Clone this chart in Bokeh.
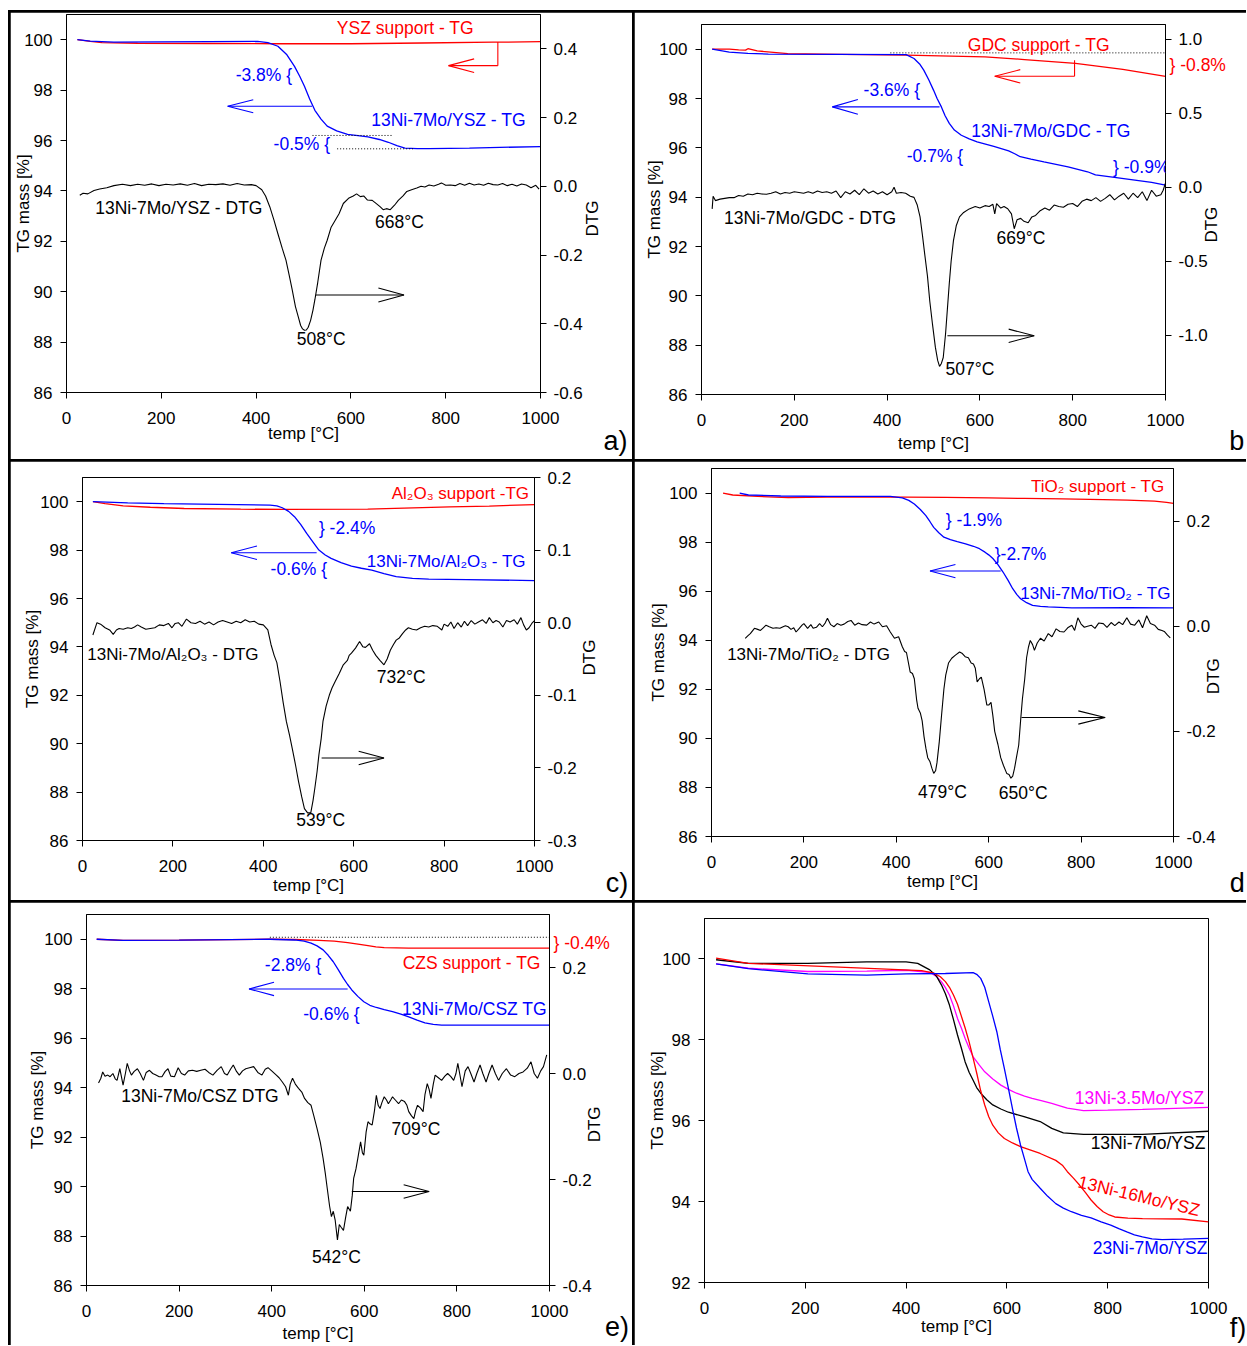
import math
from bokeh.plotting import figure
from bokeh.models import Range1d, LinearAxis, FixedTicker, PrintfTickFormatter, Label
from bokeh.layouts import row, column
from bokeh.embed import file_html
from bokeh.resources import INLINE

FONT = "Liberation Sans"
BLUE = "#0000ff"
RED = "#ff0000"
BLACK = "#000000"
MAG = "#ff00ff"
NBSP = "\u00a0"

X_TICKS = [0, 200, 400, 600, 800, 1000]
TG_TICKS = [86, 88, 90, 92, 94, 96, 98, 100]
TG_TICKS_F = [92, 94, 96, 98, 100]

# ---------------- panel a : YSZ ----------------
a_ysz_T = [23, 50, 75, 150, 300, 450, 600, 750, 900, 1000]
a_ysz_tg = [100.0, 99.93, 99.88, 99.86, 99.85, 99.84, 99.84, 99.87, 99.90, 99.92]
a_cat_T = [23, 50, 100, 200, 300, 403, 425, 446, 465, 481, 492, 502, 513, 524, 537, 550, 570, 593,
           615, 636, 660, 679, 697, 714, 740, 765, 850, 1000]
a_cat_tg = [100.0, 99.94, 99.90, 99.91, 99.92, 99.93, 99.88, 99.74, 99.40, 98.94, 98.55, 98.15, 97.65,
            97.20, 96.85, 96.57, 96.38, 96.24, 96.19, 96.14, 96.04, 95.93, 95.80, 95.70, 95.68, 95.68,
            95.70, 95.76]
a_dtg_T = [28, 35, 45, 58, 70, 85, 100, 118, 135, 150,
           165, 180, 195, 210, 225, 240, 255, 270, 285, 300,
           315, 330, 345, 360, 375, 390, 400, 412, 420, 429,
           438, 446, 455, 463, 470, 476, 483, 489, 494, 498,
           502, 506, 510, 515, 520, 524, 530, 537, 544, 550,
           558, 567, 575, 584, 595, 605, 612, 620, 627, 635,
           645, 655, 662, 668, 675, 683, 692, 700, 710, 718,
           728, 739, 748, 756, 765, 775, 785, 791, 800, 810,
           820, 830, 840, 850, 860, 870, 880, 890, 900, 910,
           920, 930, 940, 950, 960, 970, 980, 990, 997]
a_dtg = [-0.026, -0.020, -0.022, -0.012, -0.008, -0.004, 0.002, 0.006, 0.002, 0.006,
         0.003, 0.007, 0.002, 0.006, 0.004, 0.007, 0.003, 0.008, 0.002, 0.006,
         0.005, 0.007, 0.003, 0.008, 0.004, 0.005, 0.002, -0.010, -0.028, -0.060,
         -0.100, -0.138, -0.180, -0.215, -0.260, -0.300, -0.350, -0.380, -0.405, -0.415,
         -0.419, -0.418, -0.410, -0.390, -0.360, -0.330, -0.280, -0.215, -0.180, -0.157,
         -0.120, -0.099, -0.080, -0.050, -0.035, -0.028, -0.022, -0.030, -0.028, -0.040,
         -0.041, -0.052, -0.060, -0.068, -0.065, -0.068, -0.055, -0.041, -0.028, -0.015,
         -0.010, -0.005, 0.000, -0.002, 0.004, 0.001, 0.006, 0.010, 0.003, 0.004,
         0.002, 0.008, 0.003, 0.009, 0.004, 0.007, 0.003, 0.009, 0.005, 0.004,
         0.008, 0.002, 0.006, 0.001, 0.007, 0.004, -0.004, 0.003, -0.008]

# ---------------- panel b : GDC ----------------
b_gdc_T = [23, 60, 80, 95, 100, 120, 186, 300, 441, 611, 696, 806, 908, 1000]
b_gdc_tg = [100.0, 100.0, 99.97, 99.96, 100.02, 99.93, 99.82, 99.79, 99.76, 99.69, 99.58, 99.42,
            99.18, 98.90]
b_cat_T = [23, 60, 100, 144, 300, 441, 458, 470, 479, 490, 500, 508, 517, 525, 534, 545, 560, 577,
           594, 630, 662, 675, 687, 710, 738, 790, 832, 849, 890, 934, 970, 1000]
b_cat_tg = [100.0, 99.88, 99.83, 99.80, 99.79, 99.78, 99.62, 99.40, 99.15, 98.75, 98.34, 97.99, 97.66,
            97.30, 96.99, 96.72, 96.51, 96.36, 96.24, 96.06, 95.88, 95.76, 95.64, 95.54, 95.43, 95.23,
            95.03, 94.90, 94.80, 94.69, 94.60, 94.49]
b_dtg_T = [23, 25, 30, 40, 50, 60, 70, 80, 90, 100,
           110, 120, 130, 140, 150, 160, 170, 180, 190, 200,
           210, 220, 230, 240, 250, 260, 270, 280, 290, 300,
           310, 320, 330, 340, 350, 360, 370, 380, 390, 400,
           410, 415, 420, 430, 440, 450, 458, 465, 471, 476,
           481, 487, 492, 498, 504, 509, 513, 517, 521, 526,
           530, 534, 538, 543, 549, 556, 565, 577, 590, 600,
           611, 620, 628, 632, 636, 645, 652, 660, 668, 674,
           680, 688, 695, 704, 712, 720, 730, 740, 750, 760,
           770, 780, 790, 800, 810, 820, 830, 840, 850, 860,
           870, 880, 890, 900, 910, 920, 930, 940, 950, 960,
           970, 980, 990, 995, 1000]
b_dtg = [-0.146, -0.060, -0.090, -0.080, -0.075, -0.070, -0.070, -0.055, -0.060, -0.045,
         -0.050, -0.040, -0.045, -0.047, -0.040, -0.030, -0.045, -0.035, -0.040, -0.030,
         -0.035, -0.040, -0.030, -0.040, -0.025, -0.035, -0.030, -0.040, -0.025, -0.070,
         -0.030, -0.045, -0.020, -0.050, -0.010, -0.040, -0.025, -0.045, -0.030, -0.050,
         -0.030, 0.000, -0.040, -0.035, -0.040, -0.060, -0.068, -0.120, -0.200, -0.320,
         -0.450, -0.600, -0.770, -0.930, -1.080, -1.170, -1.210, -1.190, -1.150, -0.990,
         -0.820, -0.650, -0.500, -0.360, -0.260, -0.200, -0.170, -0.146, -0.130, -0.140,
         -0.124, -0.130, -0.115, -0.180, -0.110, -0.140, -0.130, -0.145, -0.180, -0.280,
         -0.220, -0.210, -0.230, -0.240, -0.200, -0.190, -0.158, -0.140, -0.155, -0.120,
         -0.130, -0.135, -0.115, -0.110, -0.130, -0.095, -0.080, -0.090, -0.070, -0.095,
         -0.075, -0.050, -0.085, -0.060, -0.040, -0.080, -0.040, -0.070, -0.030, -0.090,
         -0.020, -0.060, -0.050, -0.020, 0.030]

# ---------------- panel c : Al2O3 ----------------
c_al_T = [23, 50, 90, 150, 225, 350, 451, 631, 812, 900, 1000]
c_al_tg = [100.0, 99.92, 99.83, 99.77, 99.72, 99.69, 99.68, 99.69, 99.79, 99.82, 99.88]
c_cat_T = [23, 100, 180, 300, 415, 430, 442, 456, 469, 483, 496, 510, 523, 537, 550, 572, 595, 617,
           640, 667, 694, 730, 766, 850, 1000]
c_cat_tg = [100.0, 99.95, 99.92, 99.89, 99.86, 99.83, 99.75, 99.60, 99.38, 99.05, 98.69, 98.33, 98.00,
            97.80, 97.66, 97.48, 97.34, 97.25, 97.17, 97.03, 96.90, 96.83, 96.80, 96.78, 96.74]
c_dtg_T = [23, 32, 40, 50, 60, 68, 75, 81, 90, 100,
           108, 115, 122, 130, 140, 150, 160, 170, 180, 190,
           198, 205, 212, 220, 230, 240, 250, 260, 270, 280,
           290, 300, 310, 320, 330, 340, 350, 360, 370, 380,
           390, 400, 410, 417, 424, 430, 437, 444, 451, 458,
           464, 471, 478, 485, 491, 498, 505, 510, 514, 519,
           523, 528, 532, 539, 546, 552, 559, 568, 577, 586,
           590, 595, 604, 613, 620, 626, 635, 642, 649, 658,
           667, 674, 681, 688, 694, 701, 708, 715, 721, 730,
           739, 748, 757, 766, 775, 785, 795, 800, 808, 815,
           822, 830, 838, 845, 852, 860, 868, 876, 885, 893,
           900, 908, 915, 922, 930, 938, 946, 955, 962, 970,
           976, 982, 988, 994, 1000]
c_dtg = [-0.017, 0.000, -0.002, -0.007, -0.010, -0.016, -0.010, -0.008, -0.009, -0.007,
         -0.008, -0.006, -0.003, -0.006, -0.009, -0.008, -0.007, -0.003, -0.004, -0.001,
         -0.007, -0.001, 0.000, -0.005, 0.005, 0.000, -0.001, 0.002, -0.002, 0.001,
         -0.003, 0.001, 0.003, 0.001, -0.001, 0.002, 0.000, 0.004, 0.001, 0.002,
         -0.002, -0.003, -0.010, -0.030, -0.045, -0.055, -0.081, -0.110, -0.136, -0.155,
         -0.173, -0.195, -0.219, -0.240, -0.256, -0.262, -0.262, -0.245, -0.228, -0.205,
         -0.182, -0.160, -0.136, -0.115, -0.100, -0.090, -0.081, -0.070, -0.058, -0.052,
         -0.045, -0.042, -0.035, -0.026, -0.033, -0.034, -0.029, -0.038, -0.045, -0.052,
         -0.058, -0.050, -0.038, -0.030, -0.024, -0.021, -0.015, -0.010, -0.007, -0.009,
         -0.010, -0.007, -0.005, -0.006, -0.004, -0.005, -0.010, -0.002, -0.005, 0.001,
         -0.008, 0.000, -0.006, 0.002, -0.004, 0.003, -0.002, 0.001, 0.004, -0.001,
         0.007, 0.000, 0.003, 0.001, -0.006, 0.003, 0.001, 0.004, -0.002, 0.007,
         -0.003, -0.010, -0.007, -0.001, 0.003]

# ---------------- panel d : TiO2 ----------------
d_ti_T = [25, 46, 100, 166, 250, 336, 420, 507, 600, 677, 760, 848, 900, 959, 985, 1000]
d_ti_tg = [100.0, 99.92, 99.86, 99.81, 99.83, 99.84, 99.83, 99.82, 99.80, 99.78, 99.76, 99.73, 99.71,
           99.67, 99.62, 99.58]
d_cat_T = [61, 80, 150, 251, 330, 387, 413, 427, 439, 452, 464, 473, 481, 492, 503, 517, 532, 550,
           567, 580, 592, 600, 609, 620, 631, 642, 652, 661, 669, 682, 695, 712, 729, 780, 900, 1000]
d_cat_tg = [100.0, 99.92, 99.88, 99.86, 99.86, 99.86, 99.80, 99.70, 99.55, 99.33, 99.08, 98.83, 98.60,
            98.38, 98.20, 98.10, 98.02, 97.93, 97.83, 97.73, 97.59, 97.48, 97.33, 97.08, 96.78, 96.44,
            96.10, 95.86, 95.69, 95.53, 95.42, 95.38, 95.36, 95.32, 95.33, 95.32]
d_dtg_T = [73, 79, 84, 93, 100, 106, 112, 118, 125, 133,
           140, 148, 155, 160, 166, 172, 178, 183, 190, 196,
           200, 208, 215, 220, 227, 234, 240, 246, 251, 258,
           265, 272, 280, 287, 295, 302, 310, 318, 326, 336,
           344, 352, 362, 370, 379, 387, 396, 405, 413, 418,
           422, 430, 435, 439, 444, 447, 452, 456, 460, 464,
           468, 473, 477, 481, 485, 488, 493, 498, 503, 507,
           513, 520, 528, 537, 543, 549, 556, 562, 567, 571,
           575, 580, 584, 590, 596, 600, 605, 609, 613, 620,
           626, 632, 639, 644, 648, 652, 656, 660, 665, 669,
           673, 678, 682, 686, 690, 695, 699, 705, 712, 720,
           729, 737, 746, 754, 763, 771, 780, 786, 793, 800,
           807, 814, 822, 830, 838, 848, 856, 865, 873, 882,
           890, 899, 907, 916, 925, 933, 942, 950, 959, 967,
           975, 980, 987, 993]
d_dtg = [-0.023, -0.018, -0.014, -0.004, -0.006, -0.008, -0.003, 0.002, -0.001, -0.004,
         -0.003, -0.004, -0.001, 0.001, -0.001, -0.006, -0.003, -0.011, -0.004, 0.002,
         0.005, -0.004, 0.003, -0.004, -0.002, 0.005, -0.001, 0.006, 0.015, 0.003,
         -0.001, 0.005, 0.002, 0.004, 0.009, 0.011, 0.002, 0.006, 0.003, 0.002,
         0.008, 0.004, 0.008, -0.001, 0.001, -0.011, -0.023, -0.020, -0.039, -0.048,
         -0.050, -0.087, -0.090, -0.100, -0.140, -0.156, -0.165, -0.180, -0.210, -0.232,
         -0.250, -0.258, -0.270, -0.280, -0.275, -0.260, -0.220, -0.169, -0.120, -0.093,
         -0.070, -0.061, -0.055, -0.049, -0.052, -0.058, -0.060, -0.070, -0.072, -0.080,
         -0.106, -0.100, -0.097, -0.120, -0.150, -0.150, -0.145, -0.170, -0.200, -0.225,
         -0.250, -0.265, -0.280, -0.282, -0.289, -0.285, -0.270, -0.250, -0.226, -0.180,
         -0.138, -0.100, -0.060, -0.040, -0.027, -0.035, -0.046, -0.032, -0.023, -0.028,
         -0.014, -0.020, -0.005, -0.010, -0.011, -0.003, 0.002, -0.008, 0.016, 0.004,
         -0.002, 0.000, 0.002, -0.004, 0.006, 0.005, -0.002, 0.007, 0.001, 0.008,
         0.003, 0.016, 0.004, 0.002, 0.012, -0.003, 0.020, 0.005, 0.002, -0.006,
         -0.008, -0.010, -0.017, -0.022]

# ---------------- panel e : CZS ----------------
e_czs_T = [22, 79, 200, 396, 450, 502, 535, 564, 590, 608, 625, 643, 696, 800, 1000]
e_czs_tg = [100.0, 99.95, 99.96, 100.0, 99.99, 99.95, 99.92, 99.86, 99.79, 99.74, 99.69, 99.66, 99.64,
            99.64, 99.64]
e_cat_T = [22, 79, 200, 396, 449, 470, 485, 498, 511, 522, 533, 544, 555, 564, 573, 586, 599, 612,
           626, 643, 661, 679, 696, 714, 731, 749, 767, 850, 1000]
e_cat_tg = [100.0, 99.95, 99.96, 100.0, 99.97, 99.92, 99.84, 99.73, 99.57, 99.35, 99.09, 98.76, 98.42,
            98.17, 97.95, 97.69, 97.47, 97.33, 97.24, 97.15, 97.07, 96.97, 96.86, 96.73, 96.62, 96.56,
            96.53, 96.53, 96.53]
e_dtg_T = [26, 31, 35, 40, 46, 51, 57, 62, 66, 72,
           79, 84, 88, 93, 97, 103, 110, 116, 123, 129,
           136, 143, 150, 157, 163, 170, 176, 182, 190, 198,
           205, 212, 220, 229, 238, 247, 256, 264, 273, 282,
           291, 298, 304, 311, 317, 324, 330, 337, 344, 352,
           361, 370, 379, 386, 392, 400, 410, 416, 423, 430,
           436, 440, 445, 451, 458, 465, 471, 478, 485, 491,
           498, 505, 511, 516, 520, 525, 529, 533, 537, 542,
           546, 550, 555, 560, 564, 570, 574, 577, 582, 586,
           592, 596, 599, 604, 608, 612, 617, 622, 626, 630,
           634, 638, 643, 648, 652, 657, 661, 667, 674, 680,
           687, 692, 696, 702, 707, 711, 715, 721, 727, 731,
           736, 740, 744, 749, 753, 760, 767, 774, 780, 787,
           793, 798, 802, 806, 811, 818, 824, 830, 837, 843,
           850, 856, 863, 869, 876, 883, 890, 898, 907, 916,
           925, 934, 943, 952, 960, 967, 974, 981, 987, 994]
e_dtg = [-0.018, -0.009, 0.003, -0.005, -0.003, -0.006, 0.000, -0.010, -0.013, 0.009,
         -0.022, 0.000, 0.019, 0.005, -0.003, 0.004, 0.009, 0.000, -0.013, 0.002,
         0.006, 0.000, -0.003, -0.006, -0.006, 0.004, 0.009, -0.005, -0.006, 0.011,
         0.000, -0.003, 0.005, 0.006, 0.004, 0.006, 0.008, 0.002, -0.003, 0.006,
         0.013, 0.000, -0.003, 0.008, 0.016, 0.004, -0.003, 0.005, 0.009, 0.011,
         0.013, 0.002, -0.003, 0.008, 0.011, 0.005, -0.003, -0.008, -0.016, -0.025,
         -0.041, -0.020, -0.009, -0.020, -0.028, -0.035, -0.047, -0.055, -0.060, -0.080,
         -0.104, -0.130, -0.160, -0.190, -0.217, -0.250, -0.270, -0.260, -0.276, -0.314,
         -0.285, -0.290, -0.296, -0.270, -0.251, -0.260, -0.230, -0.198, -0.180, -0.160,
         -0.129, -0.150, -0.154, -0.110, -0.091, -0.095, -0.097, -0.070, -0.041, -0.060,
         -0.066, -0.055, -0.044, -0.050, -0.057, -0.050, -0.044, -0.050, -0.057, -0.050,
         -0.053, -0.060, -0.072, -0.080, -0.085, -0.070, -0.060, -0.065, -0.072, -0.040,
         -0.019, -0.030, -0.047, -0.020, -0.003, -0.008, -0.013, -0.005, 0.000, -0.006,
         -0.013, 0.000, 0.019, 0.000, -0.025, 0.005, 0.013, 0.000, -0.016, 0.000,
         0.016, 0.000, -0.016, 0.000, 0.016, 0.000, -0.013, 0.000, 0.009, -0.003,
         -0.006, 0.000, 0.003, 0.010, 0.022, 0.000, -0.009, 0.005, 0.013, 0.035]

# ---------------- panel f : YSZ comparison ----------------
f_7mo_T = [23, 87, 205, 322, 400, 423, 447, 460, 470, 478, 486, 494, 502, 510, 517, 525, 533, 540,
           548, 560, 572, 588, 603, 634, 666, 689, 712, 752, 869, 1000]
f_7mo_tg = [99.98, 99.89, 99.89, 99.93, 99.93, 99.89, 99.73, 99.58, 99.36, 99.14, 98.86, 98.50, 98.12,
            97.78, 97.46, 97.20, 97.00, 96.82, 96.68, 96.52, 96.39, 96.29, 96.21, 96.10, 95.98, 95.81,
            95.70, 95.66, 95.66, 95.74]
f_16mo_T = [23, 87, 244, 361, 431, 455, 468, 478, 486, 494, 502, 509, 517, 525, 533, 541, 548, 556,
            564, 572, 583, 595, 611, 627, 666, 697, 710, 720, 732, 744, 756, 767, 779, 791, 803, 814,
            840, 869, 947, 1000]
f_16mo_tg = [100.02, 99.89, 99.81, 99.75, 99.71, 99.65, 99.56, 99.44, 99.30, 99.11, 98.88, 98.61,
             98.30, 97.95, 97.55, 97.13, 96.74, 96.39, 96.10, 95.89, 95.70, 95.56, 95.45, 95.36, 95.19,
             95.02, 94.90, 94.74, 94.58, 94.41, 94.22, 94.04, 93.88, 93.75, 93.67, 93.62, 93.59, 93.58,
             93.57, 93.50]
f_35mo_T = [23, 87, 205, 322, 400, 447, 460, 470, 478, 486, 494, 502, 510, 517, 525, 533, 545, 556,
            572, 588, 604, 619, 635, 650, 670, 689, 705, 720, 752, 800, 869, 1000]
f_35mo_tg = [99.88, 99.77, 99.69, 99.70, 99.72, 99.67, 99.57, 99.44, 99.29, 99.11, 98.84, 98.53, 98.28,
             98.04, 97.80, 97.58, 97.38, 97.21, 97.03, 96.88, 96.77, 96.68, 96.61, 96.55, 96.49, 96.43,
             96.37, 96.31, 96.25, 96.26, 96.28, 96.33]
f_23ni_T = [23, 87, 205, 322, 400, 478, 533, 540, 548, 556, 564, 572, 580, 587, 595, 603, 611, 619,
            627, 635, 642, 650, 666, 681, 697, 712, 728, 748, 767, 787, 806, 822, 838, 853, 869, 888,
            908, 950, 1000]
f_23ni_tg = [99.88, 99.76, 99.63, 99.60, 99.63, 99.64, 99.66, 99.62, 99.52, 99.30, 98.94, 98.58, 98.20,
             97.75, 97.29, 96.80, 96.30, 95.82, 95.40, 95.05, 94.74, 94.55, 94.33, 94.13, 93.95, 93.84,
             93.75, 93.66, 93.60, 93.50, 93.42, 93.33, 93.25, 93.18, 93.13, 93.08, 93.06, 93.07, 93.09]

# ---------------- annotations (text, x, y, colour, align, size) ----------------
a_texts = [("YSZ support - TG", 715, 100.46, RED, "center", "17.5px"),
           ("-3.8% {", 476, 98.61, BLUE, "right", "17.5px"),
           ("13Ni-7Mo/YSZ - TG", 806, 96.80, BLUE, "center", "17.5px"),
           ("-0.5% {", 556, 95.88, BLUE, "right", "17.5px"),
           ("13Ni-7Mo/YSZ - DTG", 237, 93.33, BLACK, "center", "17.5px"),
           ("668°C", 651, 92.76, BLACK, "left", "17.5px"),
           ("508°C", 486, 88.11, BLACK, "left", "17.5px")]
b_texts = [("GDC support - TG", 727, 100.16, RED, "center", "17.5px"),
           ("-3.6% {", 471, 98.34, BLUE, "right", "17.5px"),
           ("13Ni-7Mo/GDC - TG", 753, 96.68, BLUE, "center", "17.5px"),
           ("-0.7% {", 564, 95.68, BLUE, "right", "17.5px"),
           ("} -0.9%", 887, 95.23, BLUE, "left", "17.5px"),
           ("13Ni-7Mo/GDC - DTG", 234, 93.14, BLACK, "center", "17.5px"),
           ("669°C", 636, 92.36, BLACK, "left", "17.5px"),
           ("507°C", 526, 87.05, BLACK, "left", "17.5px")]
c_texts = [("Al₂O₃ support -TG", 836, 100.34, RED, "center", "17px"),
           ("} -2.4%", 523, 98.90, BLUE, "left", "17.5px"),
           ("13Ni-7Mo/Al₂O₃ - TG", 805, 97.54, BLUE, "center", "17px"),
           ("-0.6% {", 541, 97.21, BLUE, "right", "17.5px"),
           ("13Ni-7Mo/Al₂O₃ - DTG", 200, 93.70, BLACK, "center", "17px"),
           ("732°C", 651, 92.76, BLACK, "left", "17.5px"),
           ("539°C", 473, 86.83, BLACK, "left", "17.5px")]
d_texts = [("TiO₂ support - TG", 836, 100.27, RED, "center", "17px"),
           ("} -1.9%", 507, 98.92, BLUE, "left", "17.5px"),
           ("}-2.7%", 613, 97.52, BLUE, "left", "17.5px"),
           ("13Ni-7Mo/TiO₂ - TG", 831, 95.92, BLUE, "center", "17px"),
           ("13Ni-7Mo/TiO₂ - DTG", 210, 93.41, BLACK, "center", "17px"),
           ("479°C", 447, 87.83, BLACK, "left", "17.5px"),
           ("650°C", 622, 87.76, BLACK, "left", "17.5px")]
e_texts = [("CZS support - TG", 832, 99.05, RED, "center", "17.5px"),
           ("-2.8% {", 507, 98.96, BLUE, "right", "17.5px"),
           ("13Ni-7Mo/CSZ TG", 838, 97.16, BLUE, "center", "17.5px"),
           ("-0.6% {", 590, 96.97, BLUE, "right", "17.5px"),
           ("13Ni-7Mo/CSZ DTG", 245, 93.65, BLACK, "center", "17.5px"),
           ("709°C", 659, 92.34, BLACK, "left", "17.5px"),
           ("542°C", 487, 87.16, BLACK, "left", "17.5px")]
f_texts = [("13Ni-3.5Mo/YSZ", 863, 96.57, MAG, "center", "17.5px"),
           ("13Ni-7Mo/YSZ", 880, 95.44, BLACK, "center", "17.5px"),
           ("23Ni-7Mo/YSZ", 884, 92.86, BLUE, "center", "17.5px")]

# arrows: (tail x, tip x, y, head length, head half width, colour, bracket top or None)
a_arrows = [(910, 806, 98.97, 54, 0.27, RED, 99.91),
            (518, 340, 97.36, 54, 0.26, BLUE, None),
            (526, 712, 89.87, 54, 0.28, BLACK, None)]
b_arrows = [(804, 632, 98.90, 55, 0.27, RED, 99.55),
            (513, 282, 97.66, 55, 0.30, BLUE, None),
            (530, 717, 88.38, 55, 0.27, BLACK, None)]
c_arrows = [(518, 329, 97.89, 57, 0.28, BLUE, None),
            (529, 667, 89.41, 56, 0.28, BLACK, None)]
d_arrows = [(626, 473, 96.82, 55, 0.27, BLUE, None),
            (671, 852, 90.85, 58, 0.27, BLACK, None)]
e_arrows = [(564, 351, 97.99, 54, 0.27, BLUE, None),
            (573, 740, 89.80, 55, 0.27, BLACK, None)]
# dotted guide lines: (x0, x1, y)
a_dots = [(519, 688, 96.20), (571, 731, 95.67)]
b_dots = [(407, 1000, 99.85)]
e_dots = [(396, 1000, 100.08)]


def style_axis(ax):
    ax.axis_line_color = "black"
    ax.axis_line_width = 1
    ax.major_tick_line_color = "black"
    ax.minor_tick_line_color = None
    ax.major_tick_out = 6
    ax.major_tick_in = 0
    ax.major_label_text_font = FONT
    ax.major_label_text_font_size = "17px"
    ax.major_label_text_color = "black"
    ax.axis_label_text_font = FONT
    ax.axis_label_text_font_size = "17px"
    ax.axis_label_text_font_style = "normal"
    ax.axis_label_text_color = "black"


def make_panel(width, height, borders, tg_lo, tg_ticks, dtg_range, dtg_ticks,
               y_als, x_als, margin):
    bl, br, bt, bb = borders
    p = figure(width=width, height=height, output_backend="svg", toolbar_location=None,
               x_range=Range1d(0, 1000), y_range=Range1d(tg_lo, 101),
               min_border_left=bl, min_border_right=br, min_border_top=bt, min_border_bottom=bb,
               outline_line_color="black", outline_line_width=1,
               background_fill_color="white", border_fill_color="white", margin=margin)
    if "frame_align" in p.properties():
        try:
            p.frame_align = False
        except Exception:
            pass
    p.xgrid.visible = False
    p.ygrid.visible = False
    style_axis(p.xaxis[0])
    style_axis(p.yaxis[0])
    p.xaxis.ticker = FixedTicker(ticks=X_TICKS)
    p.yaxis.ticker = FixedTicker(ticks=tg_ticks)
    p.xaxis.axis_label = "temp [°C]"
    p.yaxis.axis_label = "TG mass [%]"
    p.xaxis.major_label_standoff = 13
    p.xaxis.axis_label_standoff = x_als
    p.yaxis.major_label_standoff = 8
    p.yaxis.axis_label_standoff = y_als
    if dtg_range is not None:
        p.extra_y_ranges = {"dtg": Range1d(*dtg_range)}
        ax = LinearAxis(y_range_name="dtg", ticker=FixedTicker(ticks=dtg_ticks),
                        formatter=PrintfTickFormatter(format="%.1f"))
        style_axis(ax)
        ax.major_label_standoff = 7
        p.add_layout(ax, "right")
    return p


def side_text(p, side, at, text, color, size, standoff, orientation=None):
    """Text in the plot margin, drawn as the single tick label of a bare axis."""
    ax = LinearAxis(ticker=FixedTicker(ticks=[at]),
                    formatter=PrintfTickFormatter(format=text.replace("%", "%%")))
    ax.axis_line_color = None
    ax.major_tick_line_color = None
    ax.minor_tick_line_color = None
    ax.major_tick_out = 0
    ax.major_tick_in = 0
    ax.major_label_text_font = FONT
    ax.major_label_text_font_size = size
    ax.major_label_text_color = color
    ax.major_label_standoff = standoff
    if orientation is not None:
        ax.major_label_orientation = orientation
    p.add_layout(ax, side)


def panel_label(p, text, n_pad, standoff):
    side_text(p, "below", 1000, NBSP * n_pad + text, BLACK, "27px", standoff)


def dtg_label(p, at, standoff):
    side_text(p, "right", at, "DTG", BLACK, "17px", standoff, math.pi / 2)


def add_texts(p, texts):
    for text, x, y, col, align, size in texts:
        p.add_layout(Label(x=x, y=y, text=text, text_color=col, text_font=FONT,
                           text_font_size=size, text_align=align, text_baseline="middle"))


def add_arrows(p, arrows):
    for tail, tip, y, hl, hh, col, top in arrows:
        d = 1 if tail > tip else -1
        xs = [[tail, tip], [tip + d * hl, tip, tip + d * hl]]
        ys = [[y, y], [y + hh, y, y - hh]]
        if top is not None:
            xs.append([tail, tail])
            ys.append([top, y])
        p.multi_line(xs, ys, line_color=col, line_width=1.1)


def add_dots(p, dots):
    for x0, x1, y in dots:
        p.line([x0, x1], [y, y], line_color="black", line_width=1, line_dash="1 2")


LW = 1.3

# ---- a ----
pa = make_panel(622, 447, (56, 92, 2, 67), 86, TG_TICKS, (-0.6, 0.5),
                [-0.6, -0.4, -0.2, 0.0, 0.2, 0.4], -12, -3, (2, 0, 0, 2))
pa.line(a_ysz_T, a_ysz_tg, line_color=RED, line_width=LW)
pa.line(a_cat_T, a_cat_tg, line_color=BLUE, line_width=LW)
pa.line(a_dtg_T, a_dtg, line_color=BLACK, line_width=1.1, y_range_name="dtg")
add_dots(pa, a_dots)
add_arrows(pa, a_arrows)
add_texts(pa, a_texts)
dtg_label(pa, 92.19, 7)
panel_label(pa, "a)", 20, -20)

# ---- b ----
pb = make_panel(612, 447, (67, 81, 12, 65), 86, TG_TICKS, (-1.4, 1.1),
                [-1.0, -0.5, 0.0, 0.5, 1.0], -8, 5, (2, 0, 0, 0))
pb.line(b_gdc_T, b_gdc_tg, line_color=RED, line_width=LW)
pb.line(b_cat_T, b_cat_tg, line_color=BLUE, line_width=LW)
pb.line(b_dtg_T, b_dtg, line_color=BLACK, line_width=1.1, y_range_name="dtg")
add_dots(pb, b_dots)
add_arrows(pb, b_arrows)
add_texts(pb, b_texts)
side_text(pb, "right", 99.35, "} -0.8%", RED, "17.5px", -41)
dtg_label(pb, 92.16, -17)
panel_label(pb, "b", 19, -30)

# ---- c ----
pc = make_panel(622, 439, (72, 98, 16, 60), 86, TG_TICKS, (-0.3, 0.2),
                [-0.3, -0.2, -0.1, 0.0, 0.1, 0.2], -5, 1, (0, 0, 0, 2))
pc.line(c_al_T, c_al_tg, line_color=RED, line_width=LW)
pc.line(c_cat_T, c_cat_tg, line_color=BLUE, line_width=LW)
pc.line(c_dtg_T, c_dtg, line_color=BLACK, line_width=1.1, y_range_name="dtg")
add_arrows(pc, c_arrows)
add_texts(pc, c_texts)
dtg_label(pc, 92.82, 10)
panel_label(pc, "c)", 22, -30)

# ---- d ----
pd = make_panel(612, 439, (77, 73, 7, 63), 86, TG_TICKS, (-0.4, 0.3),
                [-0.4, -0.2, 0.0, 0.2], -2, 1, (0, 0, 0, 0))
pd.line(d_ti_T, d_ti_tg, line_color=RED, line_width=LW)
pd.line(d_cat_T, d_cat_tg, line_color=BLUE, line_width=LW)
pd.line(d_dtg_T, d_dtg, line_color=BLACK, line_width=1.1, y_range_name="dtg")
add_arrows(pd, d_arrows)
add_texts(pd, d_texts)
dtg_label(pd, 91.80, -5)
panel_label(pd, "d", 17, -26)

# ---- e ----
pe = make_panel(622, 443, (76, 83, 12, 60), 86, TG_TICKS, (-0.4, 0.3),
                [-0.4, -0.2, 0.0, 0.2], -6, 4, (0, 0, 0, 2))
pe.line(e_czs_T, e_czs_tg, line_color=RED, line_width=LW)
pe.line(e_cat_T, e_cat_tg, line_color=BLUE, line_width=LW)
pe.line(e_dtg_T, e_dtg, line_color=BLACK, line_width=1.1, y_range_name="dtg")
add_dots(pe, e_dots)
add_arrows(pe, e_arrows)
add_texts(pe, e_texts)
side_text(pe, "right", 99.86, "} -0.4%", RED, "17.5px", -41)
dtg_label(pe, 91.79, -18)
panel_label(pe, "e)", 18, -34)

# ---- f ----
pf = make_panel(612, 443, (70, 38, 16, 63), 92, TG_TICKS_F, None, None, -8, 0, (0, 0, 0, 0))
pf.line(f_35mo_T, f_35mo_tg, line_color=MAG, line_width=LW)
pf.line(f_7mo_T, f_7mo_tg, line_color=BLACK, line_width=LW)
pf.line(f_16mo_T, f_16mo_tg, line_color=RED, line_width=LW)
pf.line(f_23ni_T, f_23ni_tg, line_color=BLUE, line_width=LW)
add_texts(pf, f_texts)
pf.add_layout(Label(x=862, y=94.14, text="13Ni-16Mo/YSZ", text_color=RED, text_font=FONT,
                    text_font_size="17.5px", text_align="center", text_baseline="middle",
                    angle=-0.234))
panel_label(pf, "f)", 8, -26)

layout = column(row(pa, pb, spacing=2), row(pc, pd, spacing=2), row(pe, pf, spacing=2),
                spacing=2, styles={"background-color": "black"}, margin=(10, 0, 0, 8))

open("out.html", "w").write(file_html(layout, INLINE))
